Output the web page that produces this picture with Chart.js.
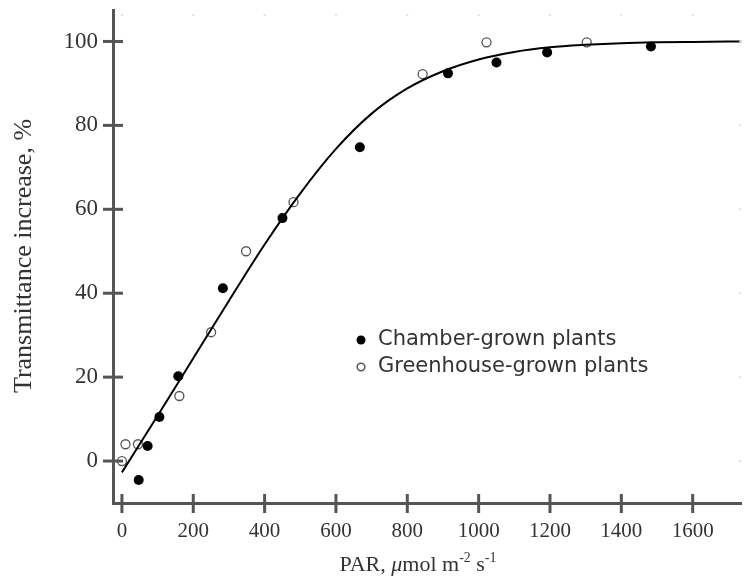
<!DOCTYPE html>
<html>
<head>
<meta charset="utf-8">
<script src="https://cdn.jsdelivr.net/npm/chart.js@4"></script>
<style>
  html, body { margin: 0; padding: 0; background: #fff; }
  #wrap { width: 747px; height: 578px; position: relative; }
</style>
</head>
<body>
<div id="wrap"><canvas id="parChart"></canvas></div>
<script>
// values
const chamberX = [47, 72, 105, 158, 283, 450, 667, 914, 1050, 1192, 1483];
const chamberY = [-4.5, 3.6, 10.5, 20.2, 41.2, 57.9, 74.8, 92.4, 95, 97.4, 98.8];

const greenhouseX = [0, 10, 45, 161, 250, 348, 481, 843, 1022, 1303];
const greenhouseY = [0, 4, 4, 15.5, 30.7, 50, 61.7, 92.2, 99.8, 99.8];

// fitted curve
const curveX = [0, 100, 200, 300, 400, 500, 600, 700, 800, 900, 1000, 1100, 1200, 1300, 1400, 1500, 1600, 1740];
const curveY = [-2.7, 10.8, 24.5, 38.2, 51.6, 63.8, 74.4, 82.8, 88.8, 92.9, 95.7, 97.5, 98.6, 99.2, 99.6, 99.8, 99.9, 100];

const xTicks = [0, 200, 400, 600, 800, 1000, 1200, 1400, 1600];
const yTicks = [0, 20, 40, 60, 80, 100];

const legendLabels = ['Chamber-grown plants', 'Greenhouse-grown plants'];

const axisColor = '#555';
const serif = '"Liberation Serif", "Times New Roman", serif';

function toPoints(xs, ys) {
    return xs.map((x, i) => ({ x: x, y: ys[i] }));
}

// cross ticks, faint top/right marks, axis titles, legend
const decorations = {
    id: 'decorations',
    afterDraw(chart) {
        const ctx = chart.ctx;
        const area = chart.chartArea;
        const xs = chart.scales.x;
        const ys = chart.scales.y;
        ctx.save();

        ctx.strokeStyle = axisColor;
        ctx.lineWidth = 3;
        xTicks.forEach(v => {
            const px = xs.getPixelForValue(v);
            ctx.beginPath();
            ctx.moveTo(px, area.bottom - 9);
            ctx.lineTo(px, area.bottom + 10);
            ctx.stroke();
        });
        yTicks.forEach(v => {
            const py = ys.getPixelForValue(v);
            ctx.beginPath();
            ctx.moveTo(area.left - 10, py);
            ctx.lineTo(area.left + 10, py);
            ctx.stroke();
        });

        ctx.fillStyle = '#e2e2e2';
        xTicks.forEach(v => {
            ctx.fillRect(xs.getPixelForValue(v) - 1, area.top + 4, 2, 2);
        });
        yTicks.forEach(v => {
            ctx.fillRect(area.right - 2, ys.getPixelForValue(v) - 1, 2, 2);
        });

        // y title
        ctx.fillStyle = '#333';
        ctx.font = '26px ' + serif;
        ctx.textAlign = 'center';
        ctx.textBaseline = 'middle';
        ctx.save();
        ctx.translate(24, 256);
        ctx.rotate(-Math.PI / 2);
        ctx.fillText('Transmittance increase, %', 0, 0);
        ctx.restore();

        // x title with superscripts
        const parts = [
            { t: 'PAR, ', f: '22px ' + serif, dy: 0 },
            { t: 'μ', f: 'italic 22px ' + serif, dy: 0 },
            { t: 'mol m', f: '22px ' + serif, dy: 0 },
            { t: '-2', f: '14px ' + serif, dy: -9 },
            { t: ' s', f: '22px ' + serif, dy: 0 },
            { t: '-1', f: '14px ' + serif, dy: -9 }
        ];
        let total = 0;
        parts.forEach(p => { ctx.font = p.f; p.w = ctx.measureText(p.t).width; total += p.w; });
        let cx = 418 - total / 2;
        ctx.textAlign = 'left';
        ctx.textBaseline = 'alphabetic';
        parts.forEach(p => {
            ctx.font = p.f;
            ctx.fillText(p.t, cx, 571 + p.dy);
            cx += p.w;
        });

        // legend
        const lx = 361;
        const rows = [340, 367];
        ctx.font = '21px "DejaVu Sans", sans-serif';
        ctx.textBaseline = 'middle';
        rows.forEach((ly, i) => {
            const ds = chart.data.datasets[i + 1];
            ctx.beginPath();
            ctx.arc(lx, ly, i === 0 ? 4.5 : 3.8, 0, Math.PI * 2);
            if (i === 0) {
                ctx.fillStyle = '#000';
                ctx.fill();
            } else {
                ctx.fillStyle = '#fff';
                ctx.fill();
                ctx.lineWidth = 1.5;
                ctx.strokeStyle = '#555';
                ctx.stroke();
            }
            ctx.fillStyle = '#333';
            ctx.fillText(ds.label, 378, ly);
        });

        ctx.restore();
    }
};

new Chart(document.getElementById('parChart'), {
    type: 'scatter',
    data: {
        datasets: [
            {
                label: 'Fit',
                data: toPoints(curveX, curveY),
                showLine: true,
                borderColor: '#000',
                borderWidth: 2,
                pointRadius: 0,
                cubicInterpolationMode: 'monotone',
                fill: false
            },
            {
                label: legendLabels[0],
                data: toPoints(chamberX, chamberY),
                backgroundColor: '#000',
                borderColor: '#000',
                pointRadius: 5,
                borderWidth: 0
            },
            {
                label: legendLabels[1],
                data: toPoints(greenhouseX, greenhouseY),
                backgroundColor: '#fff',
                borderColor: '#555',
                pointRadius: 4.5,
                borderWidth: 1.3
            }
        ]
    },
    options: {
        responsive: true,
        maintainAspectRatio: false,
        animation: false,
        devicePixelRatio: 1,
        layout: { padding: { top: 10, right: 0, left: 0, bottom: 0 } },
        plugins: {
            legend: { display: false },
            tooltip: { enabled: false }
        },
        scales: {
            x: {
                type: 'linear',
                min: -25,
                max: 1736,
                afterBuildTicks: axis => { axis.ticks = xTicks.map(v => ({ value: v })); },
                afterFit: axis => {
                    axis.height = 75;
                    axis.paddingLeft = 0;
                    axis.paddingRight = 0;
                },
                grid: { display: false, drawTicks: false },
                border: { display: true, color: axisColor, width: 3 },
                ticks: {
                    padding: 16,
                    color: '#333',
                    font: { family: serif, size: 21 },
                    maxRotation: 0,
                    callback: v => String(v)
                }
            },
            y: {
                min: -10,
                max: 107.5,
                afterBuildTicks: axis => { axis.ticks = yTicks.map(v => ({ value: v })); },
                afterFit: axis => {
                    axis.width = 113;
                    axis.paddingTop = 0;
                    axis.paddingBottom = 0;
                },
                grid: { display: false, drawTicks: false },
                border: { display: true, color: axisColor, width: 3 },
                ticks: {
                    padding: 15,
                    color: '#333',
                    font: { family: serif, size: 23 },
                    callback: v => String(v)
                }
            }
        }
    },
    plugins: [decorations]
});
</script>
</body>
</html>
